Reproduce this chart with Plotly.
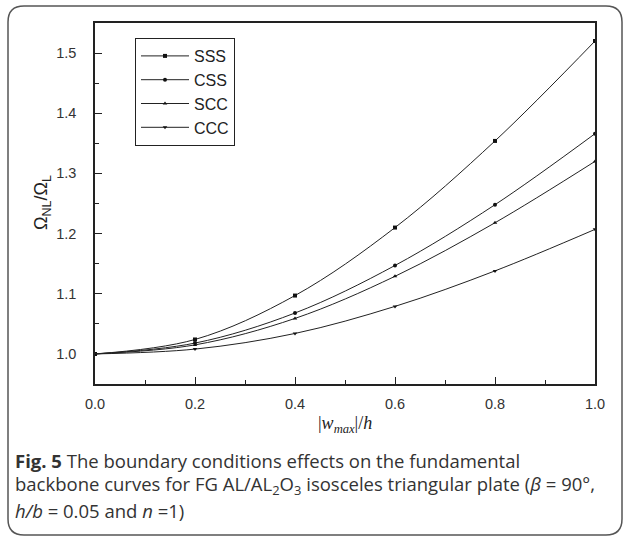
import plotly.graph_objects as go

x_vals = [0.0, 0.2, 0.4, 0.6, 0.8, 1.0]
sss = [1.000, 1.024, 1.097, 1.210, 1.354, 1.520]
css = [1.000, 1.018, 1.068, 1.147, 1.248, 1.366]
scc = [1.000, 1.015, 1.059, 1.129, 1.218, 1.320]
ccc = [1.000, 1.008, 1.034, 1.079, 1.138, 1.207]
names = ["SSS", "CSS", "SCC", "CCC"]
symbols = ["square", "circle", "triangle-up", "triangle-down"]

W, H = 627, 541
L, R, T, B = 95, 32, 23, 157
pw, ph = W - L - R, H - T - B

def px(x):
    return (x - L) / pw

def py(y):
    return (H - B - y) / ph

fig = go.Figure()
for name, ys, sym in zip(names, [sss, css, scc, ccc], symbols):
    fig.add_trace(go.Scatter(
        x=x_vals, y=ys, name=name, mode="lines+markers",
        line=dict(color="#222222", width=1, shape="spline"),
        marker=dict(symbol=sym, size=4, color="#111111"),
    ))

axis_common = dict(
    showline=True, linecolor="#222222", linewidth=1.5, mirror=True,
    ticks="inside", ticklen=7, tickwidth=1.2, tickcolor="#222222",
    showgrid=False, zeroline=False,
    tickfont=dict(family="Liberation Sans, Arial", size=14.5, color="#333333"),
)

fig.update_xaxes(range=[0, 1], dtick=0.2, tickformat=".1f",
                 minor=dict(dtick=0.1, ticks="inside", ticklen=4, tickcolor="#222222"),
                 ticklabelstandoff=6, **axis_common)
fig.update_yaxes(range=[0.95, 1.55], tick0=1.0, dtick=0.1, tickformat=".1f",
                 minor=dict(dtick=0.05, tick0=1.0, ticks="inside", ticklen=4, tickcolor="#222222"),
                 ticklabelstandoff=14, **axis_common)

# outer rounded frame
x0, x1, y0, y1, r = 8, 622, 6, 535, 16
def P(x, y):
    return f"{px(x):.5f},{py(y):.5f}"
rr = r
path = (f"M {P(x0 + rr, y0)} L {P(x1 - rr, y0)} Q {P(x1, y0)} {P(x1, y0 + rr)} "
        f"L {P(x1, y1 - rr)} Q {P(x1, y1)} {P(x1 - rr, y1)} "
        f"L {P(x0 + rr, y1)} Q {P(x0, y1)} {P(x0, y1 - rr)} "
        f"L {P(x0, y0 + rr)} Q {P(x0, y0)} {P(x0 + rr, y0)} Z")
fig.add_shape(type="path", path=path, xref="paper", yref="paper",
              line=dict(color="#555555", width=1.5), layer="below")

# axis titles
fig.add_annotation(x=px(345), y=py(424), xref="paper", yref="paper",
                   xanchor="center", yanchor="middle",
                   text="|<i>w</i><sub><i>max</i></sub>|/<i>h</i>", showarrow=False,
                   font=dict(family="Liberation Serif, Times New Roman", size=18, color="#222222"))
fig.add_annotation(x=px(42), y=py(203), xref="paper", yref="paper",
                   xanchor="center", yanchor="middle",
                   text="Ω<sub>NL</sub>/Ω<sub>L</sub>", showarrow=False, textangle=-90,
                   font=dict(family="Liberation Sans, Arial", size=18, color="#222222"))

cap_font = dict(family="Open Sans, Noto Sans", size=18.5, color="#333333")
captions = [
    "<b>Fig. 5</b> The boundary conditions effects on the fundamental",
    "backbone curves for FG AL/AL<sub>2</sub>O<sub>3</sub> isosceles triangular plate (<i>β</i> = 90°,",
    "<i>h/b</i> = 0.05 and <i>n</i> =1)",
]
for i, c in enumerate(captions):
    fig.add_annotation(x=px(13), y=py(460 + 25 * i), xref="paper", yref="paper",
                       text=c, showarrow=False, xanchor="left", yanchor="middle",
                       font=cap_font)

fig.update_layout(
    width=W, height=H, margin=dict(l=L, r=R, t=T, b=B),
    paper_bgcolor="white", plot_bgcolor="white",
    showlegend=True,
    legend=dict(x=px(135), y=py(38), xanchor="left", yanchor="top",
                bordercolor="#222222", borderwidth=1, bgcolor="white",
                font=dict(family="Liberation Sans, Arial", size=16, color="#222222"),
                itemwidth=48, entrywidth=52, tracegroupgap=0),
)

fig.write_html("out.html")
